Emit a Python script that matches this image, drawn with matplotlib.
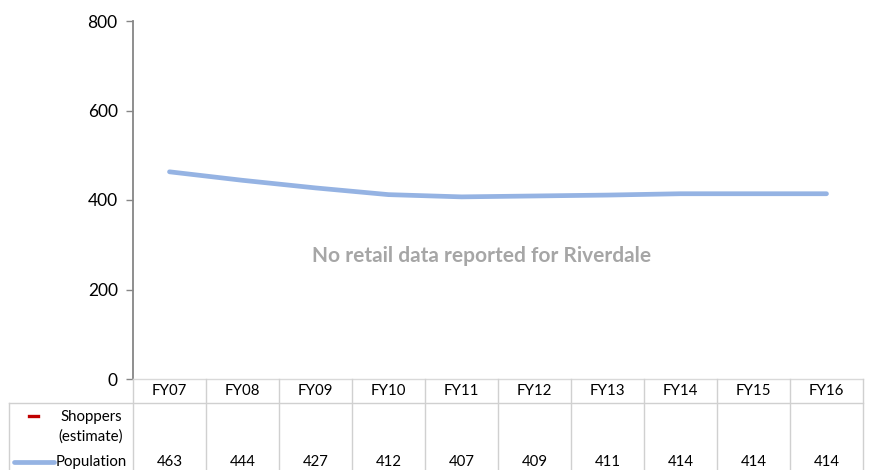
import matplotlib.pyplot as plt
from matplotlib.lines import Line2D
import matplotlib.transforms as mtransforms

plt.rcParams['font.family'] = ['Lato', 'DejaVu Sans']

years = ["FY07", "FY08", "FY09", "FY10", "FY11", "FY12", "FY13", "FY14", "FY15", "FY16"]
population = [463, 444, 427, 412, 407, 409, 411, 414, 414, 414]
shoppers = [None] * len(years)  # no retail data
yticks = [0, 200, 400, 600, 800]

W, H = 869, 470
fig = plt.figure(figsize=(W / 100, H / 100), dpi=100)
# plot area in pixels: x 133..863, y 21..379
ax = fig.add_axes([133 / W, 1 - 379 / H, 730 / W, 358 / H])

line_col = "#95B3E3"
x = list(range(len(years)))
ax.plot(x, population, color=line_col, lw=3.4, solid_capstyle="round")

ax.set_xlim(-0.5, len(years) - 0.5)
ax.set_ylim(0, 800)
ax.set_yticks(yticks)
ax.set_yticklabels([str(v) for v in yticks], fontsize=12.5, color="black")
ax.set_xticks([])
ax.tick_params(axis="y", length=5, width=1, color="#868686", pad=6)
for s in ["top", "right"]:
    ax.spines[s].set_visible(False)
ax.spines["left"].set_color("#868686")
ax.spines["left"].set_linewidth(1.3)
ax.spines["bottom"].set_color("#D9D9D9")
ax.spines["bottom"].set_linewidth(1)

ax.text(0.478, 0.344, "No retail data reported for Riverdale", transform=ax.transAxes,
        ha="center", va="center", fontsize=15, fontweight="bold", color="#A6A6A6")

# data table under the chart
def fy(py):
    return 1 - py / H

def fx(px):
    return px / W

grid = "#D0D0D0"
tsize = 10.8
trans = mtransforms.blended_transform_factory(ax.transData, fig.transFigure)
for i in range(len(years) + 1):
    xb = i - 0.5
    fig.add_artist(Line2D([xb, xb], [fy(379), fy(470)], transform=trans, color=grid, lw=1))
fig.add_artist(Line2D([fx(9), fx(863)], [fy(403), fy(403)], color=grid, lw=1))
fig.add_artist(Line2D([fx(9), fx(9)], [fy(403), fy(470)], color=grid, lw=1))

for i, yr in enumerate(years):
    fig.text(0, 0, yr, transform=trans, fontsize=tsize, ha="center", va="center")
    fig.texts[-1].set_position((i, fy(391)))
    fig.text(0, 0, str(population[i]), transform=trans, fontsize=tsize, ha="center", va="center")
    fig.texts[-1].set_position((i, fy(462)))

# legend keys
fig.add_artist(Line2D([fx(29), fx(38)], [fy(416), fy(416)], color="#C00000", lw=2.4))
fig.text(fx(91), fy(427), "Shoppers\n(estimate)", fontsize=tsize, ha="center", va="center",
         linespacing=1.45)
fig.add_artist(Line2D([fx(14), fx(54)], [fy(462), fy(462)], color=line_col, lw=3.4,
                      solid_capstyle="round"))
fig.text(fx(56), fy(462), "Population", fontsize=tsize, ha="left", va="center")

fig.savefig("out.png", dpi=100)
